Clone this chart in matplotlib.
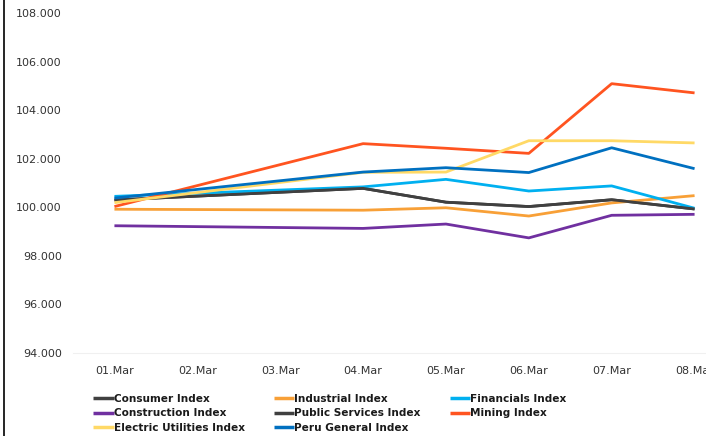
import matplotlib
matplotlib.use("Agg")
import matplotlib.pyplot as plt
from matplotlib.lines import Line2D

# trading days (day of March) and the x axis labels
days = [1, 4, 5, 6, 7, 8]
tick_days = [1, 2, 3, 4, 5, 6, 7, 8]
tick_labels = ["01.Mar", "02.Mar", "03.Mar", "04.Mar", "05.Mar", "06.Mar", "07.Mar", "08.Mar"]
y_ticks = [94, 96, 98, 100, 102, 104, 106, 108]

consumer = [100.30, 100.78, 100.21, 100.03, 100.31, 99.93]
industrial = [99.92, 99.88, 99.98, 99.64, 100.18, 100.48]
financials = [100.45, 100.84, 101.15, 100.67, 100.88, 99.96]
construction = [99.24, 99.13, 99.31, 98.74, 99.67, 99.71]
public_services = [100.30, 100.78, 100.21, 100.03, 100.31, 99.93]
mining = [100.03, 102.62, 102.43, 102.22, 105.09, 104.71]
electric = [100.19, 101.44, 101.45, 102.74, 102.74, 102.65]
peru_general = [100.38, 101.45, 101.63, 101.43, 102.45, 101.59]

names = ["Consumer Index", "Industrial Index", "Financials Index", "Construction Index",
         "Public Services Index", "Mining Index", "Electric Utilities Index", "Peru General Index"]
series = [consumer, industrial, financials, construction, public_services, mining, electric, peru_general]
colors = ["#404040", "#F8A037", "#00B0F0", "#7030A0", "#404040", "#FF5420", "#FFD966", "#0070C0"]

fig = plt.figure(figsize=(7.06, 4.36), dpi=100)
ax = fig.add_axes([73 / 706, 1 - 353 / 436, (736 - 73) / 706, (353 - 13) / 436])

lines = []
for vals, c, n in zip(series, colors, names):
    ln, = ax.plot(days, vals, color=c, lw=2.0, label=n, solid_capstyle="butt")
    lines.append(ln)

ax.set_xlim(0.5, 8.5)
ax.set_ylim(94, 108)
ax.set_xticks(tick_days)
ax.set_xticklabels(tick_labels)
ax.set_yticks(y_ticks)
ax.set_yticklabels(["%.3f" % v for v in y_ticks])
ax.tick_params(length=0, labelsize=8, colors="#333333")
ax.tick_params(axis="x", pad=9)
ax.tick_params(axis="y", pad=8)
for s in ["top", "right", "left"]:
    ax.spines[s].set_visible(False)
ax.spines["bottom"].set_color("#f0f0f0")
ax.spines["bottom"].set_linewidth(0.8)

# legend filled row by row (matplotlib fills columns first)
order = [0, 3, 6, 1, 4, 7, 2, 5]
leg = fig.legend([lines[i] for i in order], [names[i] for i in order],
                 ncol=3, loc="upper left", bbox_to_anchor=(93 / 706, 1 - 394 / 436),
                 frameon=False, borderpad=0, borderaxespad=0,
                 handlelength=1.95, handletextpad=0.0,
                 columnspacing=2.75, labelspacing=0.42,
                 prop={"weight": "bold", "size": 7.6})
for t in leg.get_texts():
    t.set_color("#1a1a1a")
for h in leg.legend_handles:
    h.set_linewidth(2.5)

# left border line of the cropped panel
fig.add_artist(Line2D([4 / 706, 4 / 706], [0, 1], color="black", lw=1.2))

fig.savefig("out.png", dpi=100)
